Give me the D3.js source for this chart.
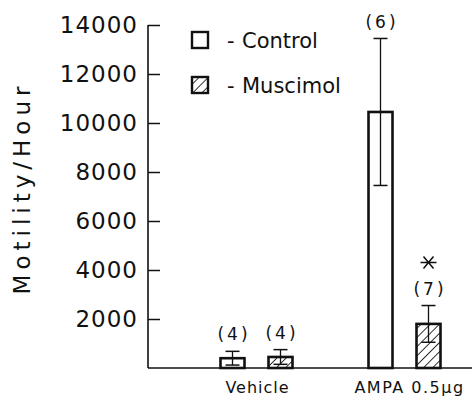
<!DOCTYPE html>
<html>
<head>
<meta charset="utf-8">
<script src="https://cdn.jsdelivr.net/npm/d3@7"></script>
<style>
  html, body { margin: 0; padding: 0; background: #fff; }
  svg { display: block; }
  text { font-family: "DejaVu Sans", "Liberation Sans", sans-serif; fill: #111; }
</style>
</head>
<body>
<svg id="chart" width="472" height="396"></svg>
<script>
const categories = ["Vehicle", "AMPA 0.5\u03bcg"];
const series = ["Control", "Muscimol"];
const controlMeans = [400, 10450];
const controlErrors = [280, 3000];
const muscimolMeans = [450, 1800];
const muscimolErrors = [300, 750];
const controlN = ["(4)", "(6)"];
const muscimolN = ["(4)", "(7)"];
const significant = [false, true]; // muscimol vs control
const yTicks = [2000, 4000, 6000, 8000, 10000, 12000, 14000];

const svg = d3.select("#chart");
const ink = "#111";

const y = d3.scaleLinear().domain([0, 14000]).range([368, 25]);
const x0 = d3.scalePoint().domain(categories).range([256.5, 404.5]);
const x1 = d3.scalePoint().domain(series).range([-24, 24]);
const barW = 24;

// hatch pattern
const defs = svg.append("defs");
const pat = defs.append("pattern")
  .attr("id", "hatch").attr("patternUnits", "userSpaceOnUse")
  .attr("width", 6.5).attr("height", 6.5)
  .attr("patternTransform", "rotate(45)");
pat.append("rect").attr("width", 6.5).attr("height", 6.5).attr("fill", "#fff");
pat.append("line").attr("x1", 0).attr("y1", 0).attr("x2", 0).attr("y2", 6.5)
  .attr("stroke", ink).attr("stroke-width", 1.7);

// y axis
const axisX = 148;
const yAxis = d3.axisRight(y).tickValues(yTicks).tickSize(12).tickFormat("");
const gy = svg.append("g").attr("transform", `translate(${axisX},0)`).call(yAxis);
gy.select(".domain").remove();
gy.selectAll(".tick line").attr("stroke", ink).attr("stroke-width", 1.5);
svg.append("line").attr("x1", axisX).attr("x2", axisX)
  .attr("y1", y(0)).attr("y2", y(14000)).attr("stroke", ink).attr("stroke-width", 1.6);

// tick labels
svg.append("g").selectAll("text").data(yTicks).join("text")
  .attr("x", 138).attr("y", d => y(d)).attr("dy", "0.36em")
  .attr("text-anchor", "end").style("font-size", "23px").style("letter-spacing", "1px")
  .text(d => d);

// y title
svg.append("text")
  .attr("transform", `translate(30,188) rotate(-90)`)
  .attr("text-anchor", "middle").style("font-size", "23px").style("letter-spacing", "5px")
  .text("Motility/Hour");

// baseline
svg.append("line").attr("x1", axisX).attr("x2", 472)
  .attr("y1", y(0)).attr("y2", y(0)).attr("stroke", ink).attr("stroke-width", 1.6);

// data rows
const rows = [];
categories.forEach((c, i) => {
  rows.push({cat: c, s: "Control", mean: controlMeans[i], err: controlErrors[i], n: controlN[i], star: false});
  rows.push({cat: c, s: "Muscimol", mean: muscimolMeans[i], err: muscimolErrors[i], n: muscimolN[i], star: significant[i]});
});
const cx = d => x0(d.cat) + x1(d.s);

svg.append("g").selectAll("rect").data(rows).join("rect")
  .attr("x", d => cx(d) - barW / 2).attr("width", barW)
  .attr("y", d => y(d.mean)).attr("height", d => y(0) - y(d.mean))
  .attr("fill", d => d.s === "Control" ? "none" : "url(#hatch)")
  .attr("stroke", ink).attr("stroke-width", 2.6);

const eb = svg.append("g");
eb.selectAll("line.v").data(rows).join("line").attr("class", "v")
  .attr("x1", cx).attr("x2", cx)
  .attr("y1", d => y(d.mean - d.err)).attr("y2", d => y(d.mean + d.err))
  .attr("stroke", ink).attr("stroke-width", 1.3);
eb.selectAll("line.top").data(rows).join("line").attr("class", "top")
  .attr("x1", d => cx(d) - 7).attr("x2", d => cx(d) + 7)
  .attr("y1", d => y(d.mean + d.err)).attr("y2", d => y(d.mean + d.err))
  .attr("stroke", ink).attr("stroke-width", 1.5);
eb.selectAll("line.bot").data(rows).join("line").attr("class", "bot")
  .attr("x1", d => cx(d) - 7).attr("x2", d => cx(d) + 7)
  .attr("y1", d => y(d.mean - d.err)).attr("y2", d => y(d.mean - d.err))
  .attr("stroke", ink).attr("stroke-width", 1.5);

// n labels
svg.append("g").selectAll("text").data(rows).join("text")
  .attr("x", d => cx(d) + 1.5).attr("y", d => y(d.mean + d.err) - 17).attr("dy", "0.36em")
  .attr("text-anchor", "middle").style("font-size", "17px").style("letter-spacing", "3px")
  .text(d => d.n);

// significance asterisk
const stars = rows.filter(d => d.star);
const sg = svg.append("g").selectAll("g").data(stars).join("g")
  .attr("transform", d => `translate(${cx(d)},${y(d.mean + d.err) - 43})`);
sg.append("path").attr("d", "M-5,-6L5,6M-5,6L5,-6M-8,0L8,0")
  .attr("stroke", ink).attr("stroke-width", 1.5).attr("fill", "none");

// category labels
svg.append("g").selectAll("text").data(categories).join("text")
  .attr("x", d => x0(d) + (d === categories[1] ? 5 : 1))
  .attr("y", 387).attr("dy", "0.36em")
  .attr("text-anchor", "middle").style("font-size", "16px")
  .style("letter-spacing", d => d === categories[1] ? "1.5px" : "1px")
  .text(d => d);

// legend
const lg = svg.append("g");
series.forEach((s, i) => {
  const ly = 40 + i * 45;
  lg.append("rect").attr("x", 192).attr("y", ly - 8).attr("width", 16).attr("height", 16)
    .attr("fill", s === "Control" ? "#fff" : "url(#hatch)")
    .attr("stroke", ink).attr("stroke-width", 2.4);
  lg.append("text").attr("x", 227).attr("y", ly).attr("dy", "0.36em")
    .style("font-size", "21px").text("-");
  lg.append("text").attr("x", 242).attr("y", ly).attr("dy", "0.36em")
    .style("font-size", "21px").text(s);
});
</script>
</body>
</html>
